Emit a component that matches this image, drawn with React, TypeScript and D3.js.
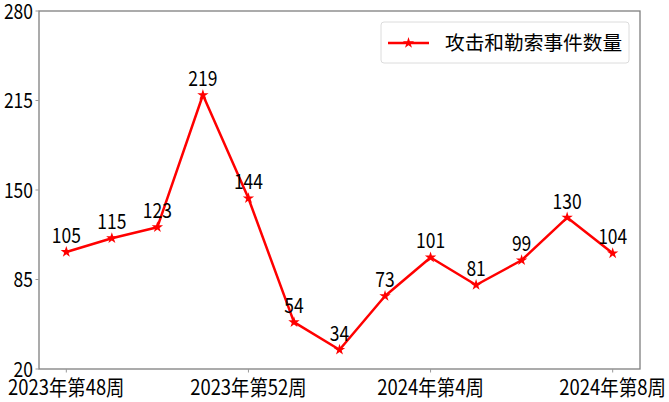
import * as React from "react";
import * as d3 from "d3";

const weeks = [
  "2023年第48周", "2023年第49周", "2023年第50周", "2023年第51周", "2023年第52周",
  "2024年第1周", "2024年第2周", "2024年第3周", "2024年第4周",
  "2024年第5周", "2024年第6周", "2024年第7周", "2024年第8周",
];
const counts = [105, 115, 123, 219, 144, 54, 34, 73, 101, 81, 99, 130, 104];
const shownTicks = [0, 4, 8, 12];
const yTicks = [20, 85, 150, 215, 280];
const seriesName = "攻击和勒索事件数量";

const W = 669;
const H = 402;
const left = 39;
const right = 640;
const top = 11;
const bottom = 369;
const font = '"Noto Sans CJK SC", sans-serif';

// the original uses a font with half-width digits, so squeeze the text to that width
const textWidth = (s: string) =>
  Array.from(s).reduce((w, c) => w + (c.charCodeAt(0) < 128 ? 9.7 : 19.4), 0);

function Label(props: { x: number; y: number; text: string; anchor: string; dy?: string }) {
  return (
    <text
      x={props.x}
      y={props.y}
      dy={props.dy}
      textAnchor={props.anchor}
      fontFamily={font}
      fontSize={21}
      fill="#000"
      textLength={textWidth(props.text)}
      lengthAdjust="spacingAndGlyphs"
    >
      {props.text}
    </text>
  );
}

function App() {
  const x = d3.scaleLinear().domain([-0.6, 12.6]).range([left, right]);
  const y = d3.scaleLinear().domain([20, 280]).range([bottom, top]);
  const path = d3
    .line<number>()
    .x((_, i) => x(i))
    .y((v) => y(v))(counts);
  const star = d3.symbol().type(d3.symbolStar).size(40)();

  return (
    <svg width={W} height={H} style={{ position: "absolute", left: 0, top: 0, display: "block" }}>
      <rect x={0} y={0} width={W} height={H} fill="#fff" />
      <rect x={left} y={top} width={right - left} height={bottom - top} fill="none" stroke="#7f7f7f" strokeWidth={1.3} />
      {yTicks.map((t) => (
        <g key={t}>
          <line x1={left - 3.5} x2={left} y1={y(t)} y2={y(t)} stroke="#999" strokeWidth={1} />
          <Label x={left - 6} y={y(t)} dy="0.36em" anchor="end" text={String(t)} />
        </g>
      ))}
      {shownTicks.map((i) => (
        <g key={i}>
          <line x1={x(i)} x2={x(i)} y1={bottom} y2={bottom + 3.5} stroke="#999" strokeWidth={1} />
          <Label x={x(i)} y={bottom + 26} anchor="middle" text={weeks[i]} />
        </g>
      ))}
      <path d={path ?? ""} fill="none" stroke="#ff0000" strokeWidth={2.5} strokeLinejoin="round" />
      {counts.map((v, i) => (
        <g key={i}>
          <path d={star ?? ""} transform={`translate(${x(i)},${y(v)})`} fill="#ff0000" />
          <Label x={x(i)} y={y(v) - 9} anchor="middle" text={String(v)} />
        </g>
      ))}
      <g>
        <rect x={381} y={22} width={248} height={41} rx={3} fill="#fff" stroke="#dcdcdc" strokeWidth={1} />
        <line x1={388} x2={429} y1={43} y2={43} stroke="#ff0000" strokeWidth={2.5} />
        <path d={star ?? ""} transform="translate(408.5,43)" fill="#ff0000" />
        <text x={445} y={43} dy="0.36em" fontFamily={font} fontSize={19.7} fill="#000">
          {seriesName}
        </text>
      </g>
    </svg>
  );
}

export default App;
